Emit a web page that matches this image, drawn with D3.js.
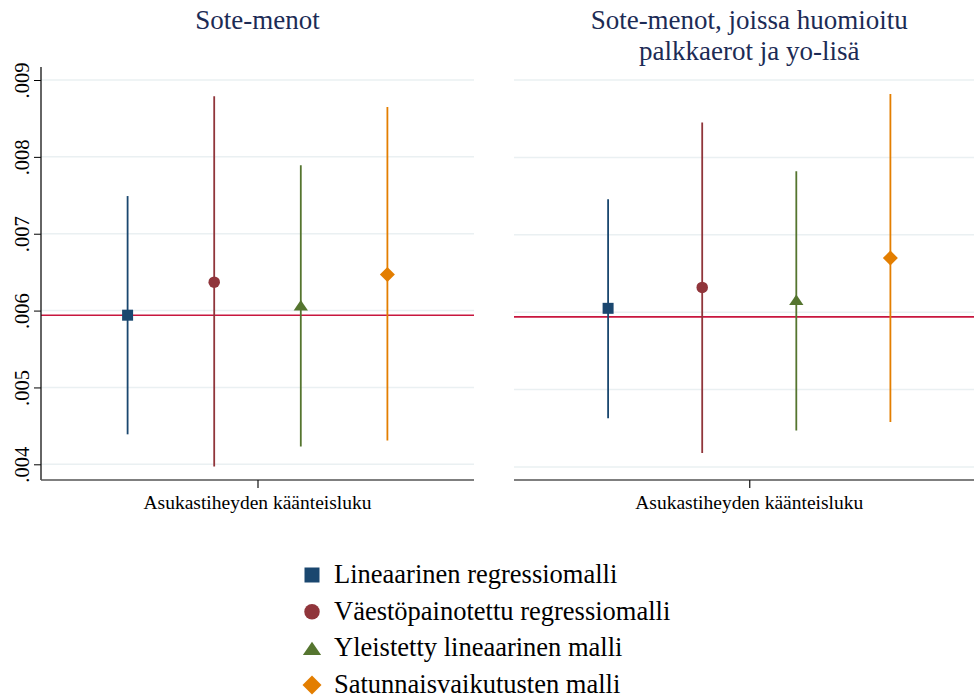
<!DOCTYPE html>
<html>
<head>
<meta charset="utf-8">
<script src="https://cdn.jsdelivr.net/npm/d3@7"></script>
<style>
  html, body { margin: 0; padding: 0; background: #fff; }
  svg { display: block; }
  text { font-family: "Liberation Serif", "DejaVu Serif", serif; }
</style>
</head>
<body>
<svg id="chart" width="974" height="698"></svg>
<script>
// Model names, in draw order
const models = [
  "Lineaarinen regressiomalli",
  "Väestöpainotettu regressiomalli",
  "Yleistetty lineaarinen malli",
  "Satunnaisvaikutusten malli"
];
const modelColors = ["#1a476f", "#90353b", "#55752f", "#e37e00"];
const modelSymbols = ["square", "circle", "triangle", "diamond"];

// Panel titles
const panelTitles = [
  ["Sote-menot"],
  ["Sote-menot, joissa huomioitu", "palkkaerot ja yo-lisä"]
];
const xLabel = "Asukastiheyden käänteisluku";

// Point estimates and 95 % intervals, panel 1 (Sote-menot)
const est1   = [0.00594, 0.00637, 0.00607, 0.00647];
const lower1 = [0.00439, 0.00397, 0.00423, 0.00431];
const upper1 = [0.00749, 0.00879, 0.00789, 0.00865];

// Panel 2 (Sote-menot, joissa huomioitu palkkaerot ja yo-lisä)
const est2   = [0.00605, 0.00632, 0.00616, 0.00670];
const lower2 = [0.00463, 0.00418, 0.00447, 0.00458];
const upper2 = [0.00746, 0.00845, 0.00782, 0.00882];

// Reference value shown as horizontal line
const refValue = 0.00594;

// Y-axis ticks
const yTicks = [0.004, 0.005, 0.006, 0.007, 0.008, 0.009];

const svg = d3.select("#chart");

const panels = [
  { x0: 41,  x1: 474, yTop: 80, yBot: 464.3, est: est1, lo: lower1, hi: upper1, title: panelTitles[0], yAxis: true },
  { x0: 514, x1: 984.5, yTop: 80, yBot: 467, est: est2, lo: lower2, hi: upper2, title: panelTitles[1], yAxis: false }
];
const axisY = 480;

function symbolPath(kind, size) {
  if (kind === "diamond") {
    const r = size / 2;
    return `M0,${-r}L${r},0L0,${r}L${-r},0Z`;
  }
  if (kind === "triangle") {
    const w = size * 1.3, h = size * 0.95;
    return `M0,${-h / 2}L${w / 2},${h / 2}L${-w / 2},${h / 2}Z`;
  }
  if (kind === "square") {
    const r = size / 2;
    return `M${-r},${-r}H${r}V${r}H${-r}Z`;
  }
  return d3.symbol(d3.symbolCircle, Math.PI * (size / 2) * (size / 2))();
}
const markerSize = { square: 11, circle: 11.5, triangle: 11, diamond: 15 };

panels.forEach((p, pi) => {
  const g = svg.append("g");
  const x = d3.scaleLinear().domain([0, 5]).range([p.x0, p.x1]);
  const y = d3.scaleLinear().domain([0.004, 0.009]).range([p.yBot, p.yTop]);

  // grid lines
  g.append("g").selectAll("line").data(yTicks).join("line")
    .attr("x1", p.x0).attr("x2", p.x1)
    .attr("y1", d => y(d)).attr("y2", d => y(d))
    .attr("stroke", "#eaf0f2").attr("stroke-width", 1.5);

  // reference line
  g.append("line")
    .attr("x1", p.x0).attr("x2", p.x1)
    .attr("y1", y(refValue)).attr("y2", y(refValue))
    .attr("stroke", "#c8163e").attr("stroke-width", 1.6);

  // y axis
  if (p.yAxis) {
    const ax = g.append("g").attr("transform", `translate(${p.x0},0)`)
      .call(d3.axisLeft(y).tickValues(yTicks).tickSize(7)
        .tickFormat(d => d3.format(".3f")(d).replace(/^0/, "")));
    ax.select(".domain").remove();
    ax.selectAll(".tick line").attr("stroke", "#000").attr("stroke-width", 1);
    ax.selectAll(".tick text")
      .attr("font-family", "Liberation Serif, serif")
      .attr("font-size", 20.5)
      .attr("fill", "#000")
      .attr("text-anchor", "middle")
      .attr("x", 0).attr("dy", 0)
      .attr("transform", "translate(-12,0) rotate(-90)");
    g.append("line")
      .attr("x1", p.x0).attr("x2", p.x0)
      .attr("y1", 67).attr("y2", axisY)
      .attr("stroke", "#111").attr("stroke-width", 1.3);
  }

  // x axis
  const xa = g.append("g").attr("transform", `translate(0,${axisY})`)
    .call(d3.axisBottom(x).tickValues([2.5]).tickSize(8).tickFormat(""));
  xa.select(".domain").attr("stroke", "#555").attr("stroke-width", 1.6)
    .attr("d", `M${p.x0},0H${p.x1}`);
  xa.selectAll(".tick line").attr("stroke", "#111").attr("stroke-width", 1.2);
  g.append("text")
    .attr("x", x(2.5)).attr("y", 509)
    .attr("text-anchor", "middle")
    .attr("font-size", 19.5)
    .attr("fill", "#000")
    .text(xLabel);

  // title
  const t = g.append("text")
    .attr("x", x(2.5)).attr("y", 29)
    .attr("text-anchor", "middle")
    .attr("font-size", 27)
    .attr("fill", "#1c2b55");
  p.title.forEach((line, i) => {
    t.append("tspan").attr("x", x(2.5)).attr("dy", i === 0 ? 0 : 31).text(line);
  });

  // intervals
  g.append("g").selectAll("line").data(models).join("line")
    .attr("x1", (d, i) => x(i + 1)).attr("x2", (d, i) => x(i + 1))
    .attr("y1", (d, i) => y(p.lo[i])).attr("y2", (d, i) => y(p.hi[i]))
    .attr("stroke", (d, i) => modelColors[i]).attr("stroke-width", 1.8);

  // point estimates
  g.append("g").selectAll("path").data(models).join("path")
    .attr("transform", (d, i) => `translate(${x(i + 1)},${y(p.est[i])})`)
    .attr("d", (d, i) => symbolPath(modelSymbols[i], markerSize[modelSymbols[i]]))
    .attr("fill", (d, i) => modelColors[i]);
});

// legend
const legendSizes = { square: 15, circle: 15.5, triangle: 14, diamond: 19 };
const legend = svg.append("g");
const ly = d3.scaleLinear().domain([0, 3]).range([575, 685]);
legend.selectAll("path").data(models).join("path")
  .attr("transform", (d, i) => `translate(312,${ly(i)})`)
  .attr("d", (d, i) => symbolPath(modelSymbols[i], legendSizes[modelSymbols[i]]))
  .attr("fill", (d, i) => modelColors[i]);
legend.selectAll("text").data(models).join("text")
  .attr("x", 334).attr("y", (d, i) => ly(i) + 8)
  .attr("font-size", 26.5)
  .attr("fill", "#000")
  .text(d => d);
</script>
</body>
</html>
